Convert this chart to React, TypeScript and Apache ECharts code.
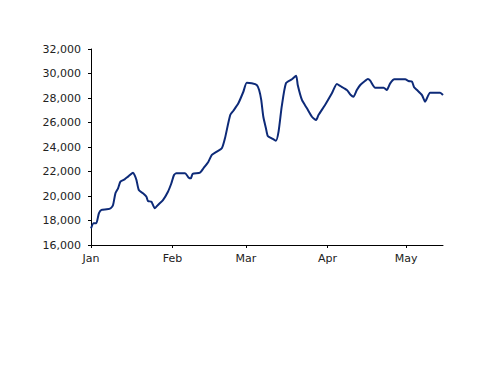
import React, { useEffect, useRef } from "react";
import * as echarts from "echarts";

const days = [0, 1, 2, 3, 4, 6, 7.5, 8.4, 9.3, 10.3, 11.2, 12.8, 14.1, 16, 16.6, 17.3, 18.2, 19.8, 21.1, 21.7, 23, 24.3, 25.5, 27.4, 29.3, 30.6, 31.6, 32.5, 35.8, 37.1, 38, 38.7, 41.5, 42.8, 44.7, 46, 47.9, 49.8, 51, 53, 54.2, 56.1, 58, 59.3, 61.2, 63.1, 64, 64.8, 65.6, 66.6, 67.3, 68.8, 70.4, 71.4, 72.6, 74.2, 76.5, 78.1, 78.7, 80.3, 82.2, 84.1, 85.7, 86.6, 89.1, 91.7, 93.6, 94.9, 97.4, 98.9, 99.9, 101.2, 102.5, 104.4, 105.4, 106.3, 108.2, 111.4, 112.6, 113.9, 115.5, 119.6, 120.9, 122.2, 123, 124.1, 126, 127.2, 129.1, 132.9, 134];

const values = [17360, 17770, 17770, 18590, 18860, 18910, 19000, 19270, 20220, 20630, 21170, 21360, 21580, 21900, 21710, 21310, 20490, 20220, 19940, 19590, 19530, 19000, 19270, 19670, 20350, 21040, 21710, 21850, 21850, 21520, 21440, 21800, 21900, 22260, 22800, 23350, 23620, 23890, 24710, 26610, 26960, 27570, 28510, 29250, 29200, 29060, 28650, 27840, 26470, 25530, 24900, 24710, 24510, 25250, 27290, 29200, 29530, 29820, 29060, 27840, 27160, 26470, 26200, 26610, 27430, 28380, 29140, 28980, 28650, 28240, 28100, 28650, 29060, 29410, 29550, 29410, 28840, 28840, 28650, 29200, 29530, 29530, 29390, 29330, 28870, 28650, 28240, 27700, 28430, 28430, 28240];

const monthStarts = [0, 31, 59, 90, 120];
const monthLabels = ["Jan", "Feb", "Mar", "Apr", "May"];

const FONT = "DejaVu Sans";

export default function App() {
  const ref = useRef<HTMLDivElement>(null);
  useEffect(() => {
    if (!ref.current) return;
    const chart = echarts.init(ref.current, undefined, { renderer: "svg" });
    chart.setOption({
      animation: false,
      backgroundColor: "#ffffff",
      grid: { left: 83, right: 65, top: 41, bottom: 149, containLabel: false },
      xAxis: {
        type: "value",
        min: 0,
        max: 134,
        splitLine: { show: false },
        axisLine: { show: true, onZero: false, lineStyle: { color: "#000", width: 1 } },
        axisTick: {
          show: true,
          customValues: monthStarts,
          length: 3,
          lineStyle: { color: "#000" },
        },
        axisLabel: {
          customValues: monthStarts,
          formatter: (v: number) => monthLabels[monthStarts.indexOf(Math.round(v))] ?? "",
          margin: 8,
          color: "#222",
          fontFamily: FONT,
          fontSize: 11,
          hideOverlap: false,
        },
      },
      yAxis: {
        type: "value",
        min: 16000,
        max: 32000,
        interval: 2000,
        splitLine: { show: false },
        axisLine: { show: true, lineStyle: { color: "#000", width: 1 } },
        axisTick: { show: true, length: 3, lineStyle: { color: "#000" } },
        axisLabel: {
          formatter: (v: number) => v.toLocaleString("en-US"),
          margin: 10,
          color: "#222",
          fontFamily: FONT,
          fontSize: 11,
        },
      },
      series: [
        {
          type: "line",
          data: days.map((d, i) => [d, values[i]]),
          showSymbol: false,
          smooth: 0.2,
          lineStyle: { color: "#0d2a78", width: 2 },
          itemStyle: { color: "#0d2a78" },
        },
      ],
    });
    return () => chart.dispose();
  }, []);
  return <div ref={ref} style={{ width: 500, height: 386 }} />;
}
